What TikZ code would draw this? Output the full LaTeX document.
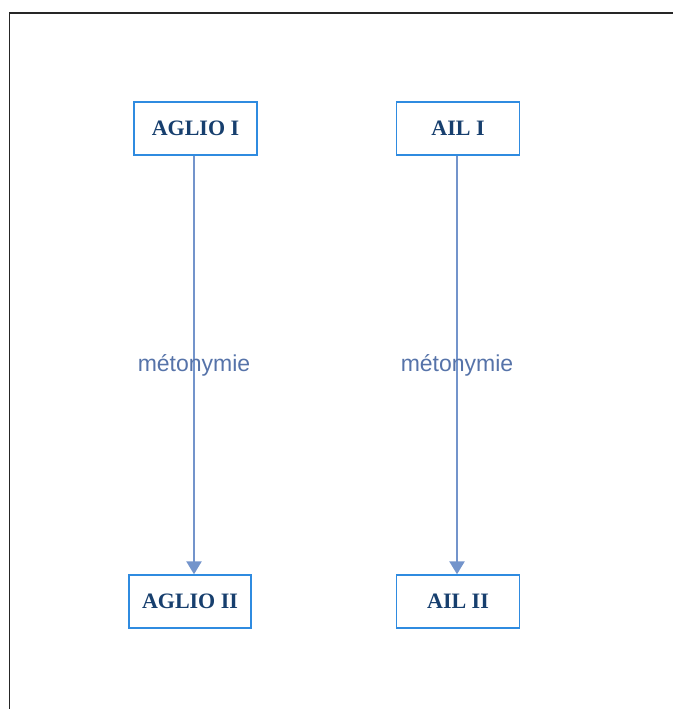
\documentclass[tikz,border=0pt]{standalone}
\usepackage{fontspec}
\setmainfont{Liberation Serif}
\setsansfont{Liberation Sans}
\usetikzlibrary{arrows.meta}

\definecolor{boxblue}{HTML}{2F8BE0}
\definecolor{termblue}{HTML}{173F6E}
\definecolor{arrowblue}{HTML}{7394CB}
\definecolor{labelblue}{HTML}{5673A9}

\begin{document}
\begin{tikzpicture}[
  x=1pt,
  y=-1pt,
  term/.style={draw=boxblue, line width=1.4pt, fill=white, text=termblue,
    font=\fontsize{22}{25}\selectfont\bfseries, minimum width=123pt, minimum height=53pt},
  arr/.style={-{Triangle[width=15pt,length=13pt]}, draw=arrowblue, line width=2.4pt},
  lbl/.style={font=\sffamily\fontsize{23}{26}\selectfont, text=labelblue}
]

\useasboundingbox (0,0) rectangle (673,709);

% cadre
\draw[line width=1.2pt, black!85] (9.5,709) -- (9.5,13) -- (673,13);

\node[term] (aglioA) at (195.5,128.5) {AGLIO I};
\node[term] (ailA) at (458,128.5) {AIL I};
\node[term, minimum width=122pt] (aglioB) at (190,601.5) {AGLIO II};
\node[term] (ailB) at (458,601.5) {AIL II};

\draw[arr] ([xshift=-1.5pt]aglioA.south) -- node[lbl]{métonymie} ([xshift=-1.5pt]aglioA.south |- aglioB.north);
\draw[arr] ([xshift=-1pt]ailA.south) -- node[lbl]{métonymie} ([xshift=-1pt]ailA.south |- ailB.north);

\end{tikzpicture}
\end{document}
